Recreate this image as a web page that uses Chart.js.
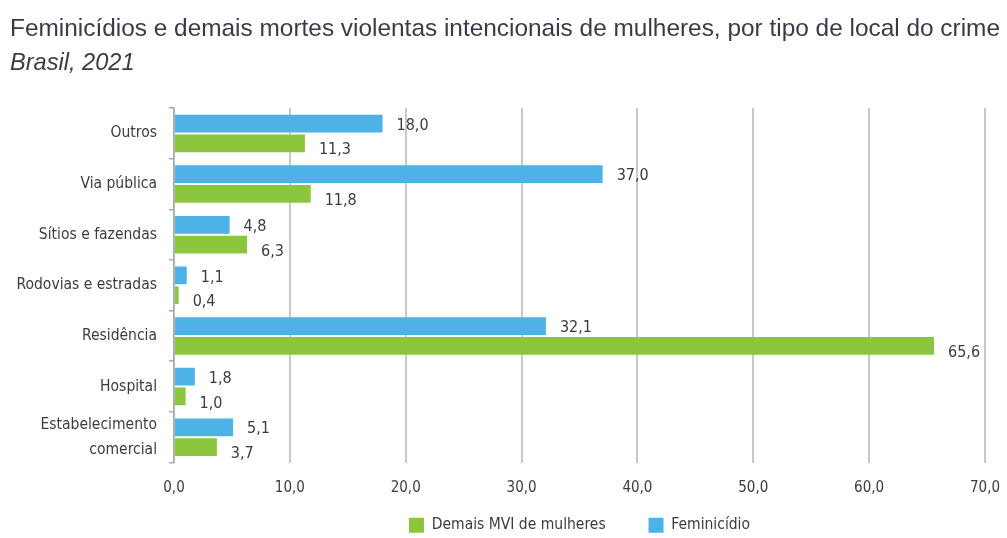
<!DOCTYPE html>
<html>
<head>
<meta charset="utf-8">
<script src="https://cdn.jsdelivr.net/npm/chart.js@4.4.1/dist/chart.umd.min.js"></script>
<style>
  html, body { margin: 0; padding: 0; background: #fff; }
  #wrap { width: 1007px; height: 538px; }
</style>
</head>
<body>
<div id="wrap"><canvas id="grafico"></canvas></div>
<script>
// dados (Brasil, 2021, em %)
const locais = ['Outros', 'Via pública', 'Sítios e fazendas', 'Rodovias e estradas', 'Residência', 'Hospital', ['Estabelecimento', 'comercial']]
const feminicidio = [18.0, 37.0, 4.8, 1.1, 32.1, 1.8, 5.1]
const demaisMvi = [11.3, 11.8, 6.3, 0.4, 65.6, 1.0, 3.7]
const ticksX = [0, 10, 20, 30, 40, 50, 60, 70]

const titulo = 'Feminicídios e demais mortes violentas intencionais de mulheres, por tipo de local do crime'
const subtitulo = 'Brasil, 2021'

const corTexto = '#3b3b48'
const fonteEstreita = "'DejaVu Sans Condensed', 'Liberation Sans', sans-serif"
const fonteTitulo = "'Liberation Sans', Arial, sans-serif"

const fmt = v => v.toFixed(1).replace('.', ',')

// rótulos com os valores ao lado de cada barra
const rotulos = {
    id: 'rotulos',
    afterDatasetsDraw(chart) {
        let ctx = chart.ctx
        ctx.save()
        ctx.font = '16px ' + fonteEstreita
        ctx.fillStyle = corTexto
        ctx.textBaseline = 'middle'
        ctx.textAlign = 'left'
        chart.data.datasets.forEach((ds, i) => {
            let desloc = i === 0 ? 2 : 7
            chart.getDatasetMeta(i).data.forEach((bar, j) => {
                ctx.fillText(fmt(ds.data[j]), bar.x + 14, bar.y + desloc)
            })
        })
        ctx.restore()
    }
}

let ctx = document.querySelector('#grafico').getContext('2d')

dados = {
    labels: locais,
    datasets: [
        {
            label: 'Feminicídio',
            data: feminicidio,
            backgroundColor: '#4db3e6',
            categoryPercentage: 0.78,
            barPercentage: 0.9
        },
        {
            label: 'Demais MVI de mulheres',
            data: demaisMvi,
            backgroundColor: '#8cc63f',
            categoryPercentage: 0.78,
            barPercentage: 0.9
        }
    ]
}

opcoes = {
    indexAxis: 'y',
    responsive: true,
    maintainAspectRatio: false,
    animation: false,
    layout: { padding: { left: 10, right: 7, top: 0, bottom: -5 } },
    scales: {
        x: {
            min: 0,
            max: 70,
            afterBuildTicks: scale => { scale.ticks = ticksX.map(v => ({ value: v })) },
            // margem fixa à direita do eixo, o título pode ir mais longe
            afterFit: scale => { scale.paddingRight = 22 },
            grid: { color: '#c8c8c8', lineWidth: 2, drawTicks: false },
            border: { display: false },
            ticks: {
                padding: 17,
                color: corTexto,
                font: { family: fonteEstreita, size: 15 },
                callback: v => fmt(v)
            }
        },
        y: {
            afterFit: scale => { scale.width = 164 },
            grid: { drawOnChartArea: false, drawTicks: true, tickLength: 5, color: '#a8a8a8', lineWidth: 1.5 },
            border: { color: '#a8a8a8', width: 1.5 },
            ticks: {
                autoSkip: false,
                padding: 12,
                color: corTexto,
                font: { family: fonteEstreita, size: 15.5, lineHeight: 1.6 }
            }
        }
    },
    plugins: {
        title: {
            display: true,
            text: titulo,
            align: 'start',
            color: corTexto,
            font: { family: fonteTitulo, size: 24.8, weight: 'normal', lineHeight: 1.2 },
            padding: { top: 14, bottom: 0 }
        },
        subtitle: {
            display: true,
            text: subtitulo,
            align: 'start',
            color: corTexto,
            font: { family: fonteTitulo, size: 23.6, style: 'italic', lineHeight: 1.2 },
            padding: { top: 6, bottom: 30 }
        },
        legend: {
            position: 'bottom',
            reverse: true,
            fullSize: false,
            labels: {
                color: corTexto,
                boxWidth: 15,
                boxHeight: 15,
                padding: 3,
                font: { family: fonteEstreita, size: 15.5 },
                // espaço extra entre os dois itens da legenda
                generateLabels: chart => {
                    let itens = Chart.defaults.plugins.legend.labels.generateLabels(chart)
                    itens.forEach(it => { if (it.datasetIndex === 1) it.text = it.text + '         ' })
                    return itens
                }
            }
        },
        tooltip: { enabled: false }
    }
}

let grafico = new Chart(ctx, {
    type: 'bar',
    data: dados,
    options: opcoes,
    plugins: [rotulos]
})
</script>
</body>
</html>
